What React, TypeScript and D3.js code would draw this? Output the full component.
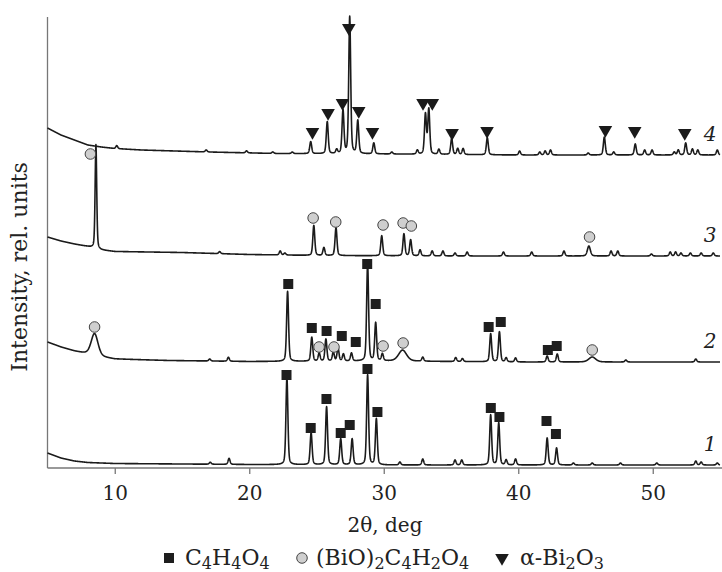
import React, { useEffect, useRef } from "react";
import * as d3 from "d3";

const width = 722;
const height = 572;
const margin = { top: 17, left: 47.5, bottom: 104 };

// 2theta axis
const xTicks = [10, 20, 30, 40, 50];

// baselines: [2theta, intensity above trace offset]
const base1 = [[5, 12], [6, 7], [7, 4], [8, 2.5], [10, 1.5], [20, 0.5], [30, 0], [55, 0]];
const base2 = [[5, 20], [6, 15], [7, 11], [8, 8], [9, 5], [10, 3], [14, 1.5], [20, 0.5], [30, 1], [40, 0], [55, 0]];
const base3 = [[5, 19], [6, 15], [7, 12], [8, 9.5], [9, 6], [10, 4.5], [15, 3.5], [20, 1.5], [25, 0.5], [35, 0], [55, 0]];
const base4 = [[5, 27], [6, 20], [7, 15], [8, 10], [9, 8], [10, 6.5], [12, 5], [17, 3], [22, 1.5], [30, 1], [40, 0], [55, 0]];

// peaks: [2theta, height, hwhm]
const peaks1 = [
  [17.1, 2], [18.5, 6], [22.8, 87], [24.6, 32], [25.75, 58], [26.8, 26], [27.65, 26],
  [28.8, 90], [29.45, 46], [31.2, 3], [32.9, 6], [35.3, 5], [35.8, 5], [37.95, 50],
  [38.55, 42], [39.1, 5], [39.8, 6], [42.15, 27], [42.85, 17], [44.1, 2], [45.5, 2],
  [47.6, 2], [50.3, 2], [53.2, 4], [53.6, 3], [54.8, 2],
];
const peaks2 = [
  [8.5, 22, 0.3], [17.06, 2], [18.45, 4], [22.85, 70], [24.65, 24], [25.2, 8], [25.7, 22],
  [26.25, 9], [26.6, 13], [27.0, 7], [27.6, 8], [28.8, 97], [29.4, 38], [29.9, 7],
  [31.4, 11, 0.35], [32.9, 4], [35.35, 4], [35.85, 3], [37.95, 28], [38.6, 30], [39.1, 4],
  [39.8, 4], [42.15, 6], [42.9, 8], [45.5, 5, 0.3], [48.0, 2], [53.2, 3],
];
const peaks3 = [
  [8.6, 104, 0.07], [17.8, 2], [22.3, 4], [22.65, 2], [24.8, 30], [25.55, 8], [26.45, 28],
  [29.85, 20], [31.5, 22], [32.0, 16], [32.7, 6], [33.6, 5], [34.4, 5], [35.3, 3], [36.2, 4],
  [38.9, 4], [41.0, 4], [43.4, 5], [45.25, 10, 0.13], [46.9, 5], [47.4, 5], [49.9, 2],
  [51.3, 4], [51.7, 4], [52.1, 3], [52.8, 3], [53.6, 3], [54.5, 3],
];
const peaks4 = [
  [10.15, 3], [16.8, 2], [19.8, 2], [21.75, 1.5], [23.2, 1.5], [24.57, 12], [25.8, 32],
  [26.5, 4], [26.97, 43], [27.47, 137], [28.07, 33], [29.26, 11], [30.6, 2], [32.5, 4],
  [33.1, 40], [33.35, 45], [34.1, 5], [35.05, 16], [35.5, 6], [35.9, 6], [37.7, 17],
  [40.1, 4], [41.6, 3], [42.0, 4], [42.4, 5], [45.2, 2], [46.4, 18], [47.1, 3], [48.7, 11],
  [49.4, 5], [49.95, 5], [51.6, 3], [51.9, 5], [52.45, 12], [52.95, 6], [53.35, 5], [54.8, 5],
];

// phase marks: [2theta, level above trace offset]
const fumaric1 = [[22.77, 90], [24.57, 37], [25.74, 66], [26.8, 32], [27.47, 40], [28.79, 96], [29.53, 53], [37.96, 57], [38.6, 48], [42.1, 44], [42.8, 31]];
const fumaric2 = [[22.9, 78], [24.65, 34], [25.75, 31], [26.88, 26], [27.92, 20], [28.77, 98], [29.4, 58], [37.8, 35], [38.7, 40], [42.2, 12], [42.86, 16]];
const bismuthyl2 = [[8.5, 35], [25.19, 15], [26.3, 15], [29.95, 16], [31.44, 19], [45.5, 12]];
const bismuthyl3 = [[8.19, 102], [24.75, 38], [26.43, 34], [29.95, 31], [31.44, 33], [32.05, 30], [45.3, 19]];
const oxide4 = [[24.7, 23], [25.86, 42], [26.93, 52], [27.4, 127], [28.14, 44], [29.16, 23], [32.92, 52], [33.61, 52], [35.08, 22], [37.68, 24], [46.48, 25], [48.66, 24], [52.38, 22]];

const traceOffsets = [3, 106, 212, 313];
const traceLabels = ["1", "2", "3", "4"];

const FONT = "'DejaVu Serif', 'Liberation Serif', serif";

function profile(peaks: number[][], base: number[][]) {
  const baseFn = d3
    .scaleLinear()
    .domain(base.map((d) => d[0]))
    .range(base.map((d) => d[1]))
    .clamp(true);
  const xs = d3.range(5, 55.0001, 0.01);
  return xs.map((x) => {
    let y = baseFn(x);
    for (const p of peaks) {
      const w = p[2] || 0.085;
      const t = (x - p[0]) / w;
      const t2 = t * t;
      if (t2 > 4000) continue;
      y += p[1] * (0.35 / (1 + t2) + 0.65 * Math.exp(-Math.LN2 * t2));
    }
    return [x, y];
  });
}

function App() {
  const ref = useRef<SVGSVGElement>(null);

  useEffect(() => {
    const svg = d3.select(ref.current);
    svg.selectAll("*").remove();

    const plotBottom = height - margin.bottom;
    const x = d3.scaleLinear().domain([5, 55]).range([margin.left, 720]);
    const y = d3.scaleLinear().domain([0, plotBottom - margin.top]).range([plotBottom, margin.top]);

    // axes
    svg.append("line")
      .attr("x1", margin.left).attr("x2", width)
      .attr("y1", plotBottom).attr("y2", plotBottom)
      .attr("stroke", "#777").attr("stroke-width", 1.3);
    svg.append("line")
      .attr("x1", margin.left).attr("x2", margin.left)
      .attr("y1", margin.top).attr("y2", plotBottom)
      .attr("stroke", "#777").attr("stroke-width", 1.3);

    const xAxis = svg.append("g")
      .attr("transform", `translate(0,${plotBottom})`)
      .call(d3.axisBottom(x).tickValues(xTicks).tickSize(6).tickPadding(12).tickSizeOuter(0));
    xAxis.select(".domain").remove();
    xAxis.selectAll("line").attr("stroke", "#777").attr("stroke-width", 1.3);
    xAxis.selectAll("text")
      .attr("fill", "#222")
      .style("font-family", FONT)
      .style("font-size", "20px");

    svg.append("text")
      .attr("x", 385).attr("y", 532)
      .attr("text-anchor", "middle")
      .attr("fill", "#222")
      .style("font-family", FONT)
      .style("font-size", "20px")
      .text("2θ, deg");

    svg.append("text")
      .attr("transform", `translate(27,${267}) rotate(-90)`)
      .attr("text-anchor", "middle")
      .attr("fill", "#222")
      .style("font-family", FONT)
      .style("font-size", "22px")
      .text("Intensity, rel. units");

    // traces
    const patterns = [
      [peaks1, base1],
      [peaks2, base2],
      [peaks3, base3],
      [peaks4, base4],
    ];
    patterns.forEach(([pk, bs], i) => {
      const off = traceOffsets[i];
      const pts = profile(pk, bs);
      const line = d3.line<number[]>()
        .x((d) => x(d[0]))
        .y((d) => y(off + d[1]));
      svg.append("path")
        .attr("d", line(pts))
        .attr("fill", "none")
        .attr("stroke", "#1b1b1b")
        .attr("stroke-width", 1.6)
        .attr("stroke-linejoin", "round");
      svg.append("text")
        .attr("x", 710).attr("y", y(off + 14))
        .attr("text-anchor", "middle")
        .attr("fill", "#222")
        .style("font-family", FONT)
        .style("font-style", "italic")
        .style("font-size", "20px")
        .text(traceLabels[i]);
    });

    const square = d3.symbol().type(d3.symbolSquare).size(100);
    const circle = d3.symbol().type(d3.symbolCircle).size(88);
    const tri = d3.symbol().type(d3.symbolTriangle).size(80);

    const drawSquares = (marks: number[][], off: number) => {
      svg.append("g").selectAll("path").data(marks).enter().append("path")
        .attr("d", square)
        .attr("transform", (d) => `translate(${x(d[0])},${y(off + d[1])})`)
        .attr("fill", "#1e1e1e");
    };
    const drawCircles = (marks: number[][], off: number) => {
      svg.append("g").selectAll("path").data(marks).enter().append("path")
        .attr("d", circle)
        .attr("transform", (d) => `translate(${x(d[0])},${y(off + d[1])})`)
        .attr("fill", "#cfcfcf")
        .attr("stroke", "#444")
        .attr("stroke-width", 1);
    };
    const drawTris = (marks: number[][], off: number) => {
      svg.append("g").selectAll("path").data(marks).enter().append("path")
        .attr("d", tri)
        .attr("transform", (d) => `translate(${x(d[0])},${y(off + d[1])}) rotate(180)`)
        .attr("fill", "#1a1a1a");
    };
    drawSquares(fumaric1, traceOffsets[0]);
    drawSquares(fumaric2, traceOffsets[1]);
    drawCircles(bismuthyl2, traceOffsets[1]);
    drawCircles(bismuthyl3, traceOffsets[2]);
    drawTris(oxide4, traceOffsets[3]);

    // legend
    const ly = 558;
    const lg = svg.append("g");
    lg.append("path").attr("d", square).attr("transform", `translate(169,${ly})`).attr("fill", "#1e1e1e");
    lg.append("path").attr("d", circle).attr("transform", `translate(302,${ly})`)
      .attr("fill", "#cfcfcf").attr("stroke", "#444");
    lg.append("path").attr("d", tri).attr("transform", `translate(502,${ly}) rotate(180)`).attr("fill", "#1a1a1a");

    const legendTexts = [
      { x: 185, parts: [["C", 0], ["4", 1], ["H", 0], ["4", 1], ["O", 0], ["4", 1]] },
      { x: 316, parts: [["(BiO)", 0], ["2", 1], ["C", 0], ["4", 1], ["H", 0], ["2", 1], ["O", 0], ["4", 1]] },
      { x: 520, parts: [["α-Bi", 0], ["2", 1], ["O", 0], ["3", 1]] },
    ];
    legendTexts.forEach((item) => {
      const t = lg.append("text")
        .attr("x", item.x).attr("y", ly + 7)
        .attr("fill", "#222")
        .style("font-family", FONT)
        .style("font-size", "22px");
      let sub = false;
      item.parts.forEach(([s, isSub]) => {
        const dy = isSub && !sub ? 4 : !isSub && sub ? -4 : 0;
        t.append("tspan")
          .attr("dy", dy)
          .style("font-size", isSub ? "16px" : "22px")
          .text(s as string);
        sub = !!isSub;
      });
    });
  }, []);

  return (
    <div style={{ position: "absolute", left: 0, top: 0 }}>
      <svg ref={ref} width={width} height={height} style={{ display: "block", background: "#fff" }} />
    </div>
  );
}

export default App;
